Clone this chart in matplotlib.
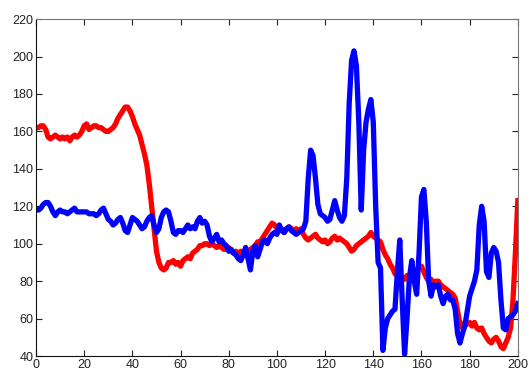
import numpy as np
import matplotlib
matplotlib.use("Agg")
import matplotlib.pyplot as plt

plt.rcParams['font.family'] = ['Liberation Sans', 'DejaVu Sans']

# sample index 0..200
x = np.arange(0, 201)

red = [162, 162, 163, 163, 161, 157, 156, 157, 158, 157,
       156, 157, 156, 157, 155, 157, 158, 157, 158, 160,
       163, 164, 161, 162, 163, 163, 162, 162, 161, 160,
       160, 161, 162, 164, 167, 169, 171, 173, 173, 171,
       168, 164, 161, 158, 153, 148, 142, 132, 120, 108,
       96, 90, 87, 86, 87, 90, 90, 91, 89, 90,
       88, 91, 92, 93, 92, 95, 96, 97, 99, 99,
       100, 100, 99, 100, 99, 98, 99, 98, 97, 97,
       98, 96, 95, 96, 94, 96, 95, 97, 96, 97,
       98, 99, 101, 101, 103, 105, 107, 109, 111, 110,
       108, 107, 108, 106, 108, 109, 108, 107, 108, 107,
       108, 105, 103, 102, 103, 104, 105, 103, 102, 101,
       102, 100, 101, 103, 104, 102, 103, 102, 101, 100,
       98, 96, 97, 99, 100, 101, 102, 103, 104, 106,
       104, 103, 102, 101, 97, 94, 92, 89, 87, 84,
       83, 81, 82, 81, 83, 82, 84, 85, 86, 87,
       88, 85, 82, 80, 81, 79, 80, 80, 78, 77,
       76, 75, 74, 73, 71, 64, 57, 55, 58, 57,
       58, 56, 58, 55, 54, 55, 52, 50, 48, 47,
       49, 50, 48, 45, 44, 47, 50, 55, 70, 95,
       123]

blue = [118, 118, 119, 121, 122, 122, 120, 117, 115, 117,
        118, 117, 117, 116, 117, 118, 119, 117, 117, 117,
        117, 117, 116, 116, 116, 115, 116, 118, 119, 116,
        113, 112, 110, 111, 113, 114, 111, 107, 106, 110,
        114, 113, 112, 110, 108, 109, 112, 114, 115, 110,
        106, 108, 114, 117, 118, 117, 112, 106, 105, 107,
        107, 106, 108, 110, 108, 109, 108, 112, 114, 111,
        112, 110, 104, 101, 103, 105, 101, 102, 100, 99,
        96, 97, 95, 94, 92, 91, 94, 98, 92, 86,
        96, 99, 93, 97, 101, 102, 100, 103, 105, 106,
        105, 110, 107, 106, 108, 109, 107, 106, 105, 106,
        107, 108, 112, 135, 150, 147, 135, 121, 116, 115,
        114, 112, 113, 118, 123, 118, 114, 112, 115, 135,
        175, 198, 203, 195, 165, 118, 150, 165, 172, 177,
        165, 120, 90, 87, 43, 55, 60, 62, 64, 65,
        85, 102, 70, 41, 60, 82, 91, 80, 73, 95,
        125, 129, 112, 80, 72, 78, 77, 78, 72, 68,
        72, 73, 70, 70, 65, 52, 47, 52, 56, 64,
        72, 76, 80, 86, 110, 120, 112, 85, 82, 95,
        98, 96, 90, 70, 55, 54, 60, 61, 62, 64,
        68]

xticks = [0, 20, 40, 60, 80, 100, 120, 140, 160, 180, 200]
yticks = [40, 60, 80, 100, 120, 140, 160, 180, 200, 220]

fig = plt.figure(figsize=(5.30, 3.74), dpi=100)
ax = fig.add_axes([0.068, 0.048, 0.909, 0.901])

ax.plot(x, red, color='#ff0000', linewidth=3.8, solid_joinstyle='round')
ax.plot(x, blue, color='#0000ff', linewidth=3.8, solid_joinstyle='round')

ax.set_xlim(0, 200)
ax.set_ylim(40, 220)
ax.set_xticks(xticks)
ax.set_yticks(yticks)
ax.tick_params(direction='in', length=4, width=0.8, labelsize=9,
               top=True, right=True, pad=2, colors='#222222')

for side in ['left', 'bottom']:
    ax.spines[side].set_color('#111111')
for side in ['top', 'right']:
    ax.spines[side].set_color('#777777')

fig.savefig('out.png', dpi=100)
